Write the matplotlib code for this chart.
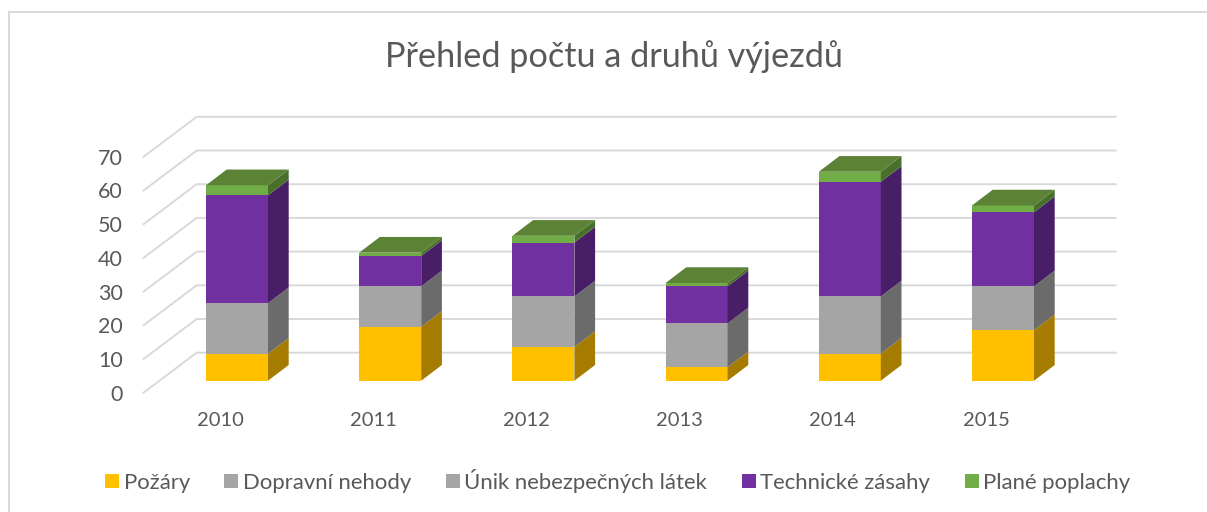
import matplotlib
matplotlib.use("Agg")
import matplotlib.pyplot as plt
from matplotlib.patches import Polygon, Rectangle

plt.rcParams['font.family'] = ['Lato', 'DejaVu Sans']

years = ['2010', '2011', '2012', '2013', '2014', '2015']
pozary = [8, 16, 10, 4, 8, 15]
dopravni = [15, 12, 15, 13, 17, 13]
unik = [0, 0, 0, 0, 0, 0]
technicke = [32, 9, 16, 11, 34, 22]
plane = [3, 1, 2, 1, 3, 2]
axis_ticks = [0, 10, 20, 30, 40, 50, 60, 70]
labels = ['Požáry', 'Dopravní nehody', 'Únik nebezpečných látek', 'Technické zásahy', 'Plané poplachy']
front_cols = ['#FFC000', '#A5A5A5', '#A5A5A5', '#7030A0', '#70AD47']
side_cols = ['#A67C00', '#6B6B6B', '#6B6B6B', '#481F67', '#48702B']
top_col = '#5B8235'
TXT = '#595959'
GRID = '#D9D9D9'

W, H = 1207, 512
fig = plt.figure(figsize=(W / 100, H / 100), dpi=100)
L, R, T, B = 143.5, 1115.7, 116.0, 392.7
ax = fig.add_axes([L / W, 1 - B / H, (R - L) / W, (B - T) / H])
PX_X, PX_Y = 153.2, 3.37           # pixels per category / per 1 unit
X0, Y0 = 237.0, 380.7              # pixel position of first bar centre, base
ax.set_xlim((L - X0) / PX_X, (R - X0) / PX_X)
ax.set_ylim((Y0 - B) / PX_Y, (Y0 - T) / PX_Y)
for s in ax.spines.values():
    s.set_visible(False)
ax.patch.set_visible(False)

# chart frame
fig.add_artist(Rectangle((9 / W, -0.1), 1.2, 1.1 - 12 / H, transform=fig.transFigure,
                         fill=False, ec=GRID, lw=1.4))

# wall: back lines and slanted left lines
wall_dx, wall_dy = 53.2 / PX_X, 40.0 / PX_Y
y_front = [v + (Y0 - B) / PX_Y for v in axis_ticks]
xl, xr = ax.get_xlim()
for yf in y_front:
    ax.plot([xl, xl + wall_dx, xr], [yf, yf + wall_dy, yf + wall_dy],
            color=GRID, lw=1.4, zorder=1, solid_joinstyle='miter', clip_on=False)

ax.set_yticks(y_front, [str(v) for v in axis_ticks])
xpos = list(range(len(years)))
ax.set_xticks([i - 17 / PX_X for i in xpos], years)
ax.tick_params(axis='y', length=0, pad=15, labelsize=15.5, labelcolor=TXT)
ax.tick_params(axis='x', length=0, pad=14, labelsize=14.5, labelcolor=TXT)

# 3-D stacked bars
width = 62 / PX_X
dep_x, dep_y = 20.7 / PX_X, 15.7 / PX_Y
series = [pozary, dopravni, unik, technicke, plane]
bottom = [0] * len(years)
handles = []
for vals, fc, sc, lab in zip(series, front_cols, side_cols, labels):
    bars = ax.bar(xpos, vals, width, bottom=bottom, color=fc, zorder=3, label=lab)
    handles.append(bars)
    for x, b, v in zip(xpos, bottom, vals):
        if v:
            xe = x + width / 2
            ax.add_patch(Polygon([(xe, b), (xe + dep_x, b + dep_y),
                                  (xe + dep_x, b + v + dep_y), (xe, b + v)],
                                 closed=True, fc=sc, ec='none', zorder=3))
    bottom = [b + v for b, v in zip(bottom, vals)]
for x, t in zip(xpos, bottom):
    xa, xb = x - width / 2, x + width / 2
    ax.add_patch(Polygon([(xa, t), (xb, t), (xb + dep_x, t + dep_y), (xa + dep_x, t + dep_y)],
                         closed=True, fc=top_col, ec='none', zorder=4))

fig.text(614 / W, 1 - 57 / H, 'Přehled počtu a druhů výjezdů', ha='center', va='center',
         fontsize=24.7, color=TXT)

leg = fig.legend(handles=handles, labels=labels, ncol=5, loc='center left',
                 bbox_to_anchor=(105 / W, 1 - 481 / H), frameon=False, fontsize=15.9,
                 labelcolor=TXT, handlelength=0.634, handleheight=0.634, handletextpad=0.21,
                 columnspacing=1.56, borderpad=0, borderaxespad=0)

fig.savefig('out.png', dpi=100)
